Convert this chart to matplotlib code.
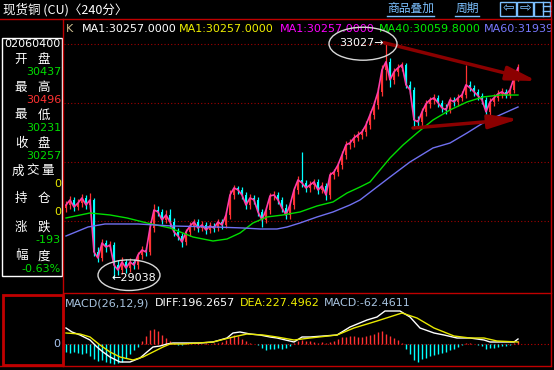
import matplotlib.pyplot as plt
import numpy as np
from matplotlib.patches import Ellipse, Rectangle

W, H = 554, 370
cjk = ['Noto Sans CJK SC', 'DejaVu Sans']

# K线数据 (240分)
opens = [30220, 30272, 30357, 30238, 30306, 30391, 30272, 30357, 29473, 29371,
         29626, 29558, 29592, 29252, 29167, 29303, 29201, 29303, 29252, 29422,
         29507, 29473, 29881, 30187, 30153, 30017, 30102, 29983, 29813, 29745,
         29643, 29813, 29915, 29983, 29881, 29932, 29847, 29915, 29881, 29983,
         29932, 30102, 30442, 30561, 30527, 30442, 30272, 30391, 30357, 30153,
         30017, 30187, 30425, 30442, 30357, 30221, 30102, 30272, 30527, 30697,
         30646, 30561, 30612, 30663, 30527, 30595, 30442, 30782, 30833, 30952,
         31122, 31292, 31326, 31411, 31462, 31513, 31632, 31802, 31972, 32193,
         32567, 32703, 32397, 32533, 32601, 32652, 32312, 32227, 31717, 31683,
         31853, 31989, 32057, 32091, 32006, 31921, 31887, 32057, 32023, 32091,
         32142, 32312, 32261, 32193, 32125, 32057, 31853, 32023, 32091, 32159,
         32193, 32142, 32227, 32431]
closes = [30272, 30357, 30238, 30306, 30391, 30272, 30357, 29473, 29371, 29626,
          29558, 29592, 29252, 29167, 29303, 29201, 29303, 29252, 29422, 29507,
          29473, 29881, 30187, 30153, 30017, 30102, 29983, 29813, 29745, 29643,
          29813, 29915, 29983, 29881, 29932, 29847, 29915, 29881, 29983, 29932,
          30102, 30442, 30561, 30527, 30442, 30272, 30391, 30357, 30153, 30017,
          30187, 30425, 30442, 30357, 30221, 30102, 30272, 30527, 30697, 30646,
          30561, 30612, 30663, 30527, 30595, 30442, 30782, 30833, 30952, 31122,
          31292, 31326, 31411, 31462, 31513, 31632, 31802, 31972, 32193, 32567,
          32703, 32397, 32533, 32601, 32652, 32312, 32227, 31717, 31683, 31853,
          31989, 32057, 32091, 32006, 31921, 31887, 32057, 32023, 32091, 32142,
          32312, 32261, 32193, 32125, 32057, 31853, 32023, 32091, 32159, 32193,
          32142, 32227, 32431, 32601]
highs = [30340, 30420, 30400, 30380, 30450, 30440, 30476, 30390, 29560, 29700,
         29680, 29660, 29640, 29330, 29380, 29360, 29370, 29350, 29480, 29570,
         29550, 30000, 30290, 30250, 30200, 30180, 30200, 30050, 29880, 29800,
         29870, 29980, 30040, 30030, 30000, 29990, 29980, 29960, 30040, 30030,
         30170, 30520, 30612, 30600, 30570, 30490, 30450, 30440, 30400, 30200,
         30240, 30480, 30510, 30490, 30410, 30280, 30330, 30580, 30760, 31173,
         30700, 30680, 30720, 30710, 30660, 30640, 30840, 30890, 31010, 31180,
         31350, 31390, 31470, 31520, 31570, 31700, 31870, 32040, 32280, 32650,
         33027, 32760, 32600, 32660, 32700, 32690, 32370, 32280, 31780, 31920,
         32050, 32110, 32150, 32140, 32060, 31980, 32110, 32100, 32150, 32200,
         32652, 32370, 32310, 32240, 32170, 32100, 32080, 32150, 32220, 32250,
         32240, 32290, 32500, 32669]
lows = [30160, 30210, 30170, 30180, 30240, 30200, 30210, 29400, 29300, 29320,
        29480, 29500, 29038, 29080, 29100, 29120, 29140, 29180, 29190, 29360,
        29400, 29420, 29820, 30080, 29950, 29960, 29900, 29740, 29680, 29560,
        29590, 29750, 29850, 29820, 29830, 29780, 29790, 29820, 29830, 29870,
        29880, 30040, 30380, 30460, 30380, 30200, 30210, 30290, 30090, 29900,
        29960, 30120, 30360, 30290, 30150, 30040, 30040, 30210, 30460, 30580,
        30490, 30500, 30550, 30460, 30470, 30360, 30380, 30720, 30770, 30890,
        31060, 31230, 31260, 31350, 31400, 31450, 31570, 31740, 31900, 32120,
        32400, 32280, 32330, 32470, 32540, 32250, 32150, 31600, 31600, 31620,
        31790, 31920, 31990, 31930, 31850, 31820, 31830, 31960, 31960, 32030,
        32080, 32200, 32130, 32060, 31990, 31750, 31790, 31960, 32030, 32090,
        32080, 32080, 32170, 32370]

# 均线 (bar index, value)
ma40_idx = [0, 6, 11, 15.25, 20.25, 26, 31.75, 36.75, 40.25, 43.5, 46.75, 50.25, 54.25, 58.5,
            62.75, 66.75, 70.25, 73.5, 76, 81, 84.25, 87.75, 91.75, 96, 100.25, 104.25, 108.5, 113]
ma40_val = [30051, 30136, 30102, 30051, 29966, 29881, 29728, 29660, 29694, 29796, 29966, 30068, 30102, 30153,
            30255, 30323, 30475, 30577, 30662, 31070, 31290, 31494, 31715, 31885, 32021, 32106, 32139, 32139]
ma60_idx = [0, 5.5, 9.75, 18, 26.5, 37.25, 44.25, 48.5, 52.75, 55.25, 58.5, 62.75, 66.75, 71,
            73.5, 81, 86, 91.75, 96, 100.25, 104.25, 108.5, 113]
ma60_val = [29745, 29898, 29949, 29949, 29915, 29898, 29881, 29864, 29864, 29898, 29966, 30068, 30153, 30272,
            30357, 30747, 31002, 31240, 31324, 31494, 31664, 31800, 31936]

# MACD
macd_hist = [-160, -180, -160, -180, -200, -180, -240, -300, -340, -320,
             -360, -380, -400, -380, -360, -280, -200, -120, -60, 60,
             160, 280, 300, 260, 180, 120, 60, 20, -20, -20,
             20, 10, 10, 20, 10, 20, 10, 20, 20, 40,
             80, 140, 180, 160, 100, 60, 20, 10, -20, -80,
             -120, -100, -100, -80, -100, -80, -40, 20, 60, 80,
             60, 60, 40, 20, 40, 20, 40, 60, 100, 140,
             140, 160, 160, 140, 140, 160, 180, 200, 240, 260,
             200, 160, 120, 80, 20, -100, -200, -320, -360, -300,
             -280, -240, -220, -200, -180, -160, -120, -100, -60, -20,
             20, 20, 10, -20, -40, -100, -80, -80, -60, -40,
             -40, -20, 20, 60]
diff_idx = [0, 1.5, 3.5, 6, 7.75, 9.25, 11, 13.5, 16, 18.5, 20.25, 21.75, 23.5, 25.25, 26.75,
            33.5, 36.75, 40.25, 41.75, 43.5, 46, 48.5, 51, 52.75, 57, 59, 61, 67.75, 71, 75.25,
            77.75, 79.75, 83.5, 86, 88.5, 92, 94.5, 97.75, 101, 104.5, 106, 109.5, 112, 113]
diff_val = [320, 240, 180, 80, -60, -160, -260, -360, -360, -280, -160, -60, -40, 0, 20,
            20, 40, 120, 220, 240, 200, 180, 140, 120, 40, 140, 140, 180, 340, 480,
            540, 660, 660, 540, 320, 220, 180, 120, 120, 80, 40, 40, 40, 100]
dea_idx = [0, 3.5, 6, 8.5, 11, 13.5, 16.75, 19.25, 21.75, 24.25, 26, 29.25, 36.75, 41.75, 45.25,
           49.25, 52.75, 57, 61, 67.75, 72, 77.75, 84, 87.75, 92, 97, 101, 104.5, 107.75, 113]
dea_val = [220, 200, 140, -20, -160, -260, -320, -260, -160, -60, 0, 0, 40, 140, 200,
           180, 140, 80, 120, 180, 320, 460, 620, 520, 320, 160, 120, 120, 60, 40]

grid_levels = [30000, 31000, 32000, 33000]
info_labels = ['开盘', '最高', '最低', '收盘', '成交量', '持仓', '涨跌', '幅度']
info_values = ['30437', '30496', '30231', '30257', '0', '0', '-193', '-0.63%']
info_colors = ['#00dd00', '#ff3232', '#00dd00', '#00dd00', '#e8e800', '#e8e800', '#00dd00', '#00dd00']


def fx(x):
    return x / W


def fy(y):
    return 1 - y / H


def rect(x0, y0, x1, y1):
    return [x0 / W, 1 - y1 / H, (x1 - x0) / W, (y1 - y0) / H]


fig = plt.figure(figsize=(W / 100, H / 100), dpi=100, facecolor='black')
ax = fig.add_axes(rect(64, 19, 551, 293))
ax2 = fig.add_axes(rect(64, 293, 551, 366))
for a in (ax, ax2):
    a.set_facecolor('black')
    a.set_xticks([])
    a.set_yticks([])
    for s in a.spines.values():
        s.set_visible(False)
    a.set_xlim(-0.5, 121.25)

o = np.array(opens)
c = np.array(closes)
hi = np.array(highs)
lo = np.array(lows)
xs = np.arange(len(c))
up = c >= o
col = np.where(up, '#ff3232', '#00ffff')

for lv in grid_levels:
    ax.axhline(lv, color='#a00000', lw=0.8, ls=(0, (1, 2)), zorder=0.5)
ax.vlines(xs, lo, hi, colors=col, lw=0.9, zorder=2)
ax.bar(xs, np.maximum(np.abs(c - o), 8), bottom=np.minimum(o, c), width=0.5,
       color=col, zorder=2)
ax.plot(xs, c, color='#ff3ca8', lw=1.2, zorder=3)
ax.plot(ma40_idx, ma40_val, color='#00dd00', lw=1, zorder=3)
ax.plot(ma60_idx, ma60_val, color='#7070f0', lw=1, zorder=3)
ax.set_ylim(28777, 33430)

# 标注
i_lo = int(np.argmin(lo))
i_hi = int(np.argmax(hi))
ax.text(i_lo - 0.5, lo[i_lo], '←' + str(lo[i_lo]), color='white', fontsize=8,
        va='center', ha='left', zorder=6)
ax.text(i_hi - 0.5, hi[i_hi], str(hi[i_hi]) + '→', color='white', fontsize=8,
        va='center', ha='right', zorder=6)
ax.add_patch(Ellipse((15.75, 29080), 15.5, 520, fill=False, ec='#d8d8d8', lw=1,
                     clip_on=False, zorder=6))
ax.add_patch(Ellipse((74.25, 33010), 17, 560, fill=False, ec='#d8d8d8', lw=1,
                     clip_on=False, zorder=6))
arr = dict(arrowstyle='-|>,head_length=1.5,head_width=0.35', color='#8b0000',
           lw=2.5, mutation_scale=12, shrinkA=0, shrinkB=0)
ax.annotate('', xy=(117.75, 32377), xytext=(i_hi - 0.5, hi[i_hi]), arrowprops=arr, zorder=5)
ax.annotate('', xy=(113.25, 31732), xytext=(86.75, 31579), arrowprops=arr, zorder=5)

# 主图指标行
leg = [(66, 'K', '#d0c090'), (82, 'MA1:30257.0000', 'white'), (179, 'MA1:30257.0000', '#f0f000'),
       (280, 'MA1:30257.0000', '#ff00ff'), (379, 'MA40:30059.8000', '#00ee00'),
       (484, 'MA60:31939.0000', '#7878ff')]
for x, t, cl in leg:
    ax.text(fx(x), fy(29), t, color=cl, fontsize=8, va='center', ha='left',
            transform=fig.transFigure, clip_on=True, zorder=4)

# MACD
hcol = ['#ff3232' if v > 0 else '#00ffff' for v in macd_hist]
ax2.axhline(0, color='#c00000', lw=0.8, ls=(0, (1, 2)))
ax2.vlines(np.arange(len(macd_hist)), 0, macd_hist, colors=hcol, lw=1)
ax2.plot(diff_idx, diff_val, color='white', lw=1)
ax2.plot(dea_idx, dea_val, color='#e8e800', lw=1)
ax2.set_ylim(-440, 1020)
mleg = [(65, 'MACD(26,12,9)', '#a8c4e0'), (155, 'DIFF:196.2657', 'white'),
        (240, 'DEA:227.4962', '#f0f000'), (324, 'MACD:-62.4611', '#a8c4e0')]
for x, t, cl in mleg:
    fig.text(fx(x), fy(303), t, color=cl, fontsize=8, va='center', ha='left')
fig.text(fx(60), fy(344), '0', color='#a8c4f0', fontsize=8, va='center', ha='right')

# 边框/标题栏
ov = fig.add_axes([0, 0, 1, 1])
ov.set_xlim(0, W)
ov.set_ylim(H, 0)
ov.axis('off')
red = '#c00000'
ov.plot([0, 551], [19, 19], color=red, lw=1)
ov.plot([551, 551], [0, 366], color=red, lw=1)
ov.plot([63, 63], [19, 366], color=red, lw=1)
ov.plot([63, 551], [293, 293], color=red, lw=1)
ov.plot([0, 551], [366, 366], color=red, lw=1)
ov.add_patch(Rectangle((2.5, 294.5), 60, 70, fill=False, ec=red, lw=2))
ov.add_patch(Rectangle((2, 38), 60, 238, fill=False, ec='white', lw=1))

fig.text(fx(3), fy(9.5), '现货铜 (CU)〈240分〉', color='white', fontsize=9,
         family=cjk, va='center', ha='left')
blue = '#7cc0ff'
for x0, x1, t in [(387, 434, '商品叠加'), (455, 479, '周期')]:
    fig.text(fx((x0 + x1) / 2), fy(8.5), t, color=blue, fontsize=8.5, family=cjk,
             va='center', ha='center')
    ov.plot([x0, x1], [16, 16], color=blue, lw=1)
for k, x0 in enumerate([500, 517, 534]):
    ov.add_patch(Rectangle((x0, 1.5), 16, 14, fill=False, ec=blue, lw=1))
ov.text(508, 8.5, '⇦', color=blue, fontsize=10, ha='center', va='center')
ov.text(525, 8.5, '⇨', color=blue, fontsize=10, ha='center', va='center')
ov.plot([543, 543], [1.5, 15.5], color=blue, lw=1)
ov.plot([543, 550], [6, 6], color=blue, lw=1)
ov.plot([543, 550], [11, 11], color=blue, lw=1)

# 信息栏
fig.text(fx(32), fy(44), '02060400', color='white', fontsize=8, va='center', ha='center')
rows = [59, 87, 115, 143, 171, 199, 227, 256]
for lab, val, vc, ry in zip(info_labels, info_values, info_colors, rows):
    if len(lab) == 2:
        pos = [21, 44]
    else:
        pos = [18, 33, 48]
    for ch, px in zip(lab, pos):
        fig.text(fx(px), fy(ry), ch, color='white', fontsize=9, family=cjk,
                 va='center', ha='center')
    fig.text(fx(61), fy(ry + 13), val, color=vc, fontsize=8, va='center', ha='right')

fig.savefig('out.png', dpi=100, facecolor='black')
